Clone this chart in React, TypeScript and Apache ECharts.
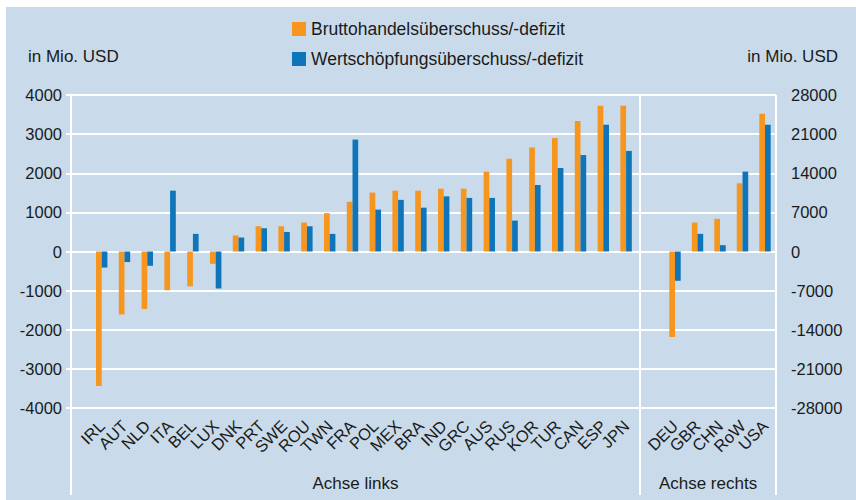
import React, { useEffect, useRef } from "react";
import * as echarts from "echarts";

const leftCats = ["IRL","AUT","NLD","ITA","BEL","LUX","DNK","PRT","SWE","ROU","TWN","FRA","POL","MEX","BRA","IND","GRC","AUS","RUS","KOR","TUR","CAN","ESP","JPN"];
const leftGross = [-3440,-1610,-1470,-990,-890,-315,410,645,645,740,980,1270,1505,1555,1555,1605,1605,2040,2370,2660,2900,3335,3725,3725];
const leftValueAdded = [-410,-270,-365,1555,450,-945,357,595,500,645,450,2860,1070,1320,1120,1410,1370,1370,790,1700,2135,2465,3240,2570];
const rightCats = ["DEU","GBR","CHN","RoW","USA"];
const rightGross = [-15300,5180,5840,12200,24640];
const rightValueAdded = [-5240,3160,1130,14290,22680];

const seriesNames = ["Bruttohandelsüberschuss/-defizit", "Wertschöpfungsüberschuss/-defizit"];
const groupLabels = ["Achse links", "Achse rechts"];
const unitLabel = "in Mio. USD";

const ORANGE = "#f7961f";
const BLUE = "#0f74b8";
const BG = "#c9dbea";
const FONT = "'Liberation Sans', Arial, Helvetica, sans-serif";
const TXT = "#1a1a1a";

export default function App() {
  const ref = useRef<HTMLDivElement>(null);
  useEffect(() => {
    if (!ref.current) return;
    const chart = echarts.init(ref.current, null, { renderer: "svg" });
    const top = 95;
    const bottom = 408;
    const h = bottom - top;
    const catLabel = {
      interval: 0,
      rotate: 45,
      margin: 15,
      fontSize: 16.5,
      color: TXT,
      fontFamily: FONT,
    };
    const plain = (v: number) => String(v);
    const option: any = {
      animation: false,
      backgroundColor: "#ffffff",
      textStyle: { fontFamily: FONT },
      legend: {
        orient: "vertical",
        left: 292,
        top: 20,
        padding: 0,
        itemWidth: 14,
        itemHeight: 14,
        itemGap: 12,
        icon: "rect",
        data: seriesNames,
        textStyle: { fontSize: 17.5, color: TXT, fontFamily: FONT, lineHeight: 17 },
      },
      grid: [
        { left: 71, top, width: 705, height: h },
        { left: 90.3, top, width: 547.2, height: h },
        { left: 663.75, top, width: 112.5, height: h },
      ],
      xAxis: [
        { type: "category", gridIndex: 0, data: ["a"], show: false },
        {
          type: "category",
          gridIndex: 1,
          data: leftCats,
          axisLine: { show: false, onZero: false },
          axisTick: { show: false },
          axisLabel: catLabel,
        },
        {
          type: "category",
          gridIndex: 2,
          data: rightCats,
          axisLine: { show: false, onZero: false },
          axisTick: { show: false },
          axisLabel: catLabel,
        },
      ],
      yAxis: [
        {
          type: "value",
          gridIndex: 0,
          position: "left",
          min: -4000,
          max: 4000,
          interval: 1000,
          axisLine: { show: false },
          axisTick: { show: true, length: 5, lineStyle: { color: "#ffffff", width: 2 } },
          splitLine: { show: true, lineStyle: { color: "#ffffff", width: 2 } },
          axisLabel: { fontSize: 16.5, color: TXT, fontFamily: FONT, margin: 9, formatter: plain },
        },
        {
          type: "value",
          gridIndex: 0,
          position: "right",
          min: -28000,
          max: 28000,
          interval: 7000,
          axisLine: { show: false },
          axisTick: { show: false },
          splitLine: { show: false },
          axisLabel: { fontSize: 16.5, color: TXT, fontFamily: FONT, margin: 15, formatter: plain },
        },
        { type: "value", gridIndex: 1, min: -4000, max: 4000, interval: 1000, show: false, splitLine: { show: false } },
        { type: "value", gridIndex: 2, min: -28000, max: 28000, interval: 7000, show: false, splitLine: { show: false } },
      ],
      series: [
        {
          name: seriesNames[0], type: "bar", xAxisIndex: 1, yAxisIndex: 2, data: leftGross,
          barWidth: 5.7, barGap: "0%", itemStyle: { color: ORANGE },
        },
        {
          name: seriesNames[1], type: "bar", xAxisIndex: 1, yAxisIndex: 2, data: leftValueAdded,
          barWidth: 5.7, barGap: "0%", itemStyle: { color: BLUE },
        },
        {
          name: seriesNames[0], type: "bar", xAxisIndex: 2, yAxisIndex: 3, data: rightGross,
          barWidth: 5.7, barGap: "0%", itemStyle: { color: ORANGE },
        },
        {
          name: seriesNames[1], type: "bar", xAxisIndex: 2, yAxisIndex: 3, data: rightValueAdded,
          barWidth: 5.7, barGap: "0%", itemStyle: { color: BLUE },
        },
      ],
      graphic: [
        { type: "rect", z: -10, silent: true, shape: { x: 6, y: 7, width: 850, height: 493 }, style: { fill: BG } },
        { type: "line", z: 5, shape: { x1: 71, y1: top, x2: 71, y2: 495 }, style: { stroke: "#ffffff", lineWidth: 2 } },
        { type: "line", z: 5, shape: { x1: 640, y1: top, x2: 640, y2: 495 }, style: { stroke: "#ffffff", lineWidth: 2 } },
        { type: "line", z: 5, shape: { x1: 776, y1: top, x2: 776, y2: 495 }, style: { stroke: "#ffffff", lineWidth: 2 } },
        { type: "text", x: 28, y: 56, style: { text: unitLabel, fontSize: 17, fill: TXT, fontFamily: FONT, verticalAlign: "middle" } },
        { type: "text", x: 838, y: 56, style: { text: unitLabel, fontSize: 17, fill: TXT, fontFamily: FONT, align: "right", verticalAlign: "middle" } },
        { type: "text", x: 355.5, y: 483, style: { text: groupLabels[0], fontSize: 17, fill: TXT, fontFamily: FONT, align: "center", verticalAlign: "middle" } },
        { type: "text", x: 708, y: 483, style: { text: groupLabels[1], fontSize: 17, fill: TXT, fontFamily: FONT, align: "center", verticalAlign: "middle" } },
      ],
    };
    chart.setOption(option);
    return () => chart.dispose();
  }, []);
  return (
    <div
      ref={ref}
      style={{ position: "fixed", left: 0, top: 0, width: 856, height: 500 }}
    />
  );
}
